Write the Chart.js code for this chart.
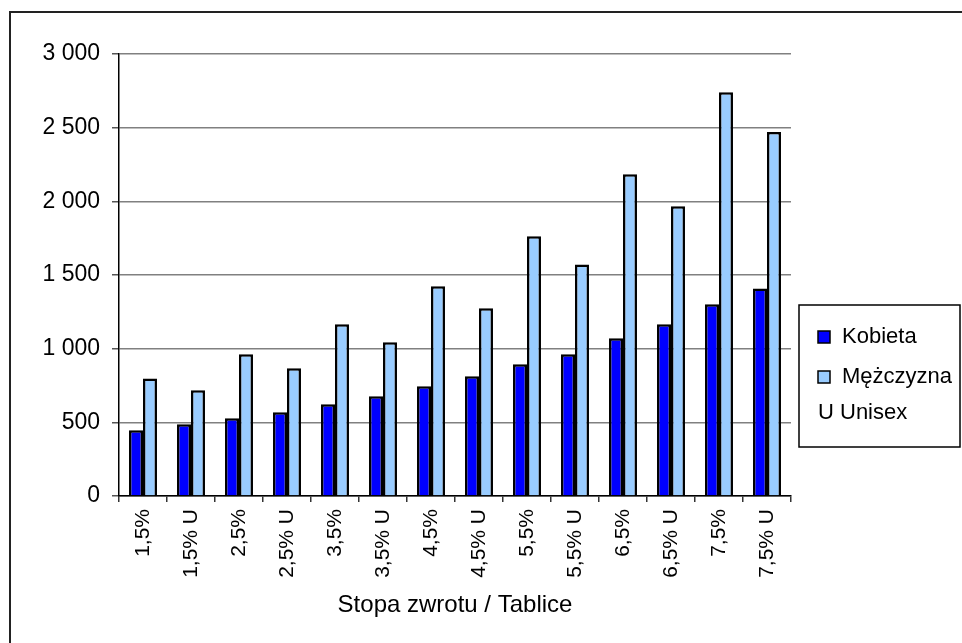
<!DOCTYPE html>
<html>
<head>
<meta charset="utf-8">
<script src="https://cdn.jsdelivr.net/npm/chart.js@4/dist/chart.umd.min.js"></script>
<style>
  body { margin: 0; background: #fff; }
</style>
</head>
<body>
<canvas id="chart" width="962" height="643"></canvas>
<script>
const categories = ['1,5%', '1,5% U', '2,5%', '2,5% U', '3,5%', '3,5% U', '4,5%', '4,5% U',
  '5,5%', '5,5% U', '6,5%', '6,5% U', '7,5%', '7,5% U']
const kobieta = [446, 487, 528, 568, 622, 677, 745, 813, 894, 962, 1070, 1166, 1301, 1409]
const mezczyzna = [797, 717, 962, 867, 1166, 1043, 1423, 1274, 1763, 1572, 2184, 1966, 2741, 2471]
const legendLabels = ['Kobieta', 'Mężczyzna', 'U Unisex']
const axisTitle = 'Stopa zwrotu / Tablice'

const font = 'Liberation Sans, Arial, sans-serif'
Chart.defaults.font.family = font
Chart.defaults.color = '#000'

// thousands separated by a space, like "3 000"
const fmt = (v) => String(v).replace(/\B(?=(\d{3})+(?!\d))/g, ' ')

const frame = {
  id: 'frame',
  beforeDraw(chart) {
    const ctx = chart.ctx
    ctx.save()
    ctx.fillStyle = '#fff'
    ctx.fillRect(0, 0, chart.width, chart.height)
    ctx.strokeStyle = '#222'
    ctx.lineWidth = 2
    ctx.beginPath()
    ctx.moveTo(10, chart.height)
    ctx.lineTo(10, 12)
    ctx.lineTo(chart.width, 12)
    ctx.stroke()
    ctx.restore()
  },
  afterDraw(chart) {
    const ctx = chart.ctx
    ctx.save()
    ctx.fillStyle = '#fff'
    ctx.fillRect(799, 305, 161, 142)
    ctx.strokeStyle = '#000'
    ctx.lineWidth = 1.5
    ctx.strokeRect(799, 305, 161, 142)
    ctx.font = '22px ' + font
    ctx.textBaseline = 'middle'
    const rows = [337, 377, 413]
    chart.data.datasets.forEach((ds, i) => {
      ctx.fillStyle = ds.backgroundColor
      ctx.fillRect(818, rows[i] - 6, 12, 12)
      ctx.strokeRect(818, rows[i] - 6, 12, 12)
      ctx.fillStyle = '#000'
      ctx.fillText(legendLabels[i], 842, rows[i])
    })
    ctx.fillStyle = '#000'
    ctx.fillText(legendLabels[2], 818, rows[2])
    ctx.restore()
  }
}

const ctx = document.getElementById('chart')
const myChart = new Chart(ctx, {
  type: 'bar',
  data: {
    labels: categories,
    datasets: [
      { label: legendLabels[0], data: kobieta, backgroundColor: '#0000ff', borderColor: '#000', borderWidth: 2.5 },
      { label: legendLabels[1], data: mezczyzna, backgroundColor: '#99ccff', borderColor: '#000', borderWidth: 2.5 }
    ]
  },
  options: {
    responsive: false,
    devicePixelRatio: 1,
    animation: false,
    categoryPercentage: 0.583,
    barPercentage: 1,
    layout: { padding: { top: 54, right: 171, bottom: 0, left: 0 } },
    plugins: { legend: { display: false }, tooltip: { enabled: false } },
    scales: {
      x: {
        afterFit: (s) => { s.height = 147 },
        grid: { display: true, drawOnChartArea: false, offset: true, tickLength: 6, color: '#333', lineWidth: 1.5 },
        border: { display: true, color: '#000', width: 1.5 },
        ticks: { autoSkip: false, minRotation: 90, maxRotation: 90, padding: 7, font: { size: 21 }, color: '#000' },
        title: { display: true, text: axisTitle, font: { size: 24 }, color: '#000', padding: { top: 0, bottom: 23 } }
      },
      y: {
        min: 0,
        max: 3000,
        afterFit: (s) => { s.width = 119 },
        grid: { color: '#808080', lineWidth: 1.5, tickLength: 7, tickColor: '#555' },
        border: { display: true, color: '#000', width: 1.5 },
        ticks: { stepSize: 500, padding: 12, font: { size: 23 }, color: '#000', callback: (v) => fmt(v) }
      }
    }
  },
  plugins: [frame]
})
</script>
</body>
</html>
